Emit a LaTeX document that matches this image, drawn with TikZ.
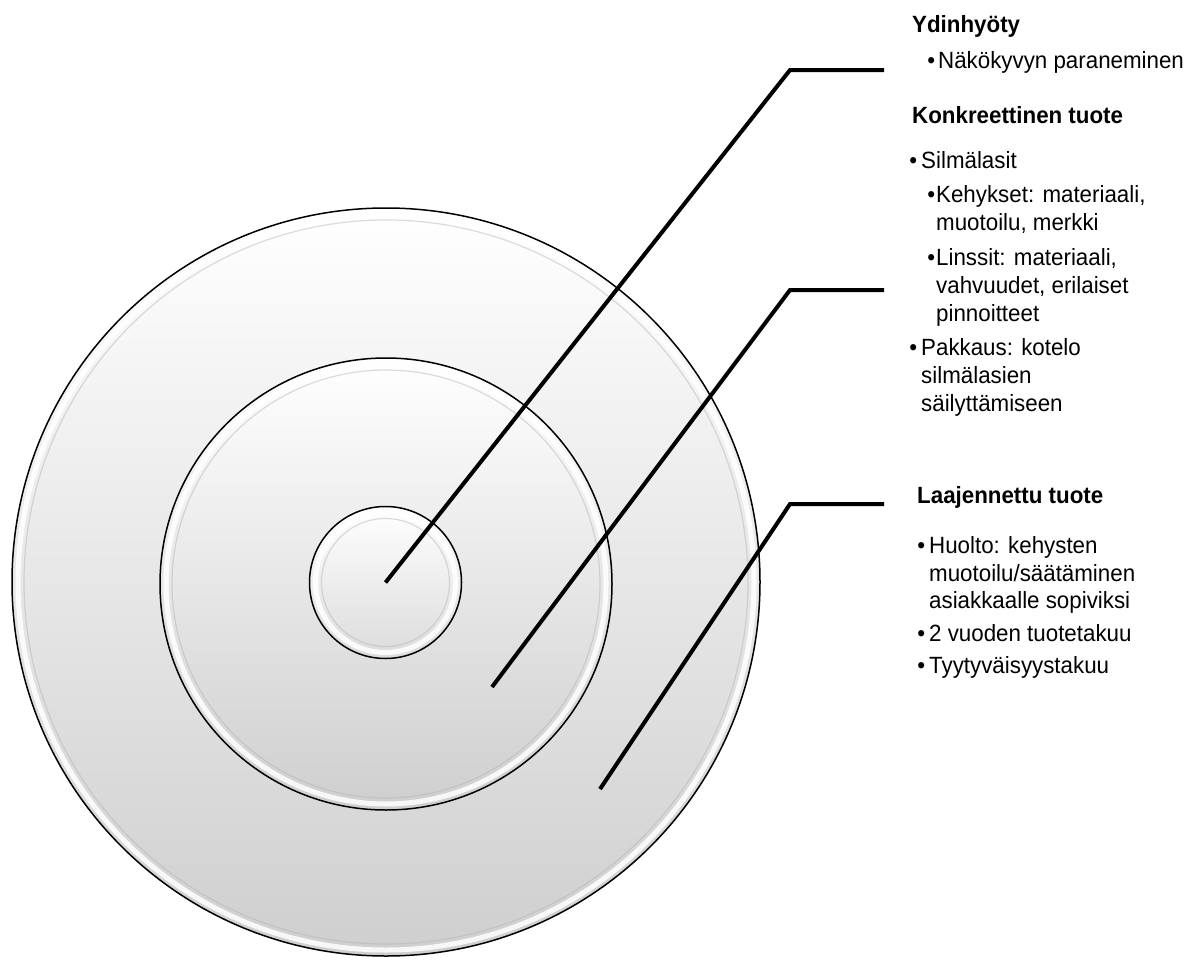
\documentclass[tikz,border=0pt]{standalone}
\usepackage{fontspec}
\setmainfont[FakeStretch=0.95]{Liberation Sans}
\newcommand\mybul[1]{\llap{•\hspace{#1}}}
\begin{document}
\begin{tikzpicture}[x=1pt,y=-1pt,
  disc/.style={circle, inner sep=0pt, draw=black, line width=1.5pt, top color=white, bottom color=gray!38},
  hl/.style={draw=white, line width=5pt, opacity=0.85},
  sh/.style={draw=gray!60, line width=1.2pt, opacity=0.45},
  conn/.style={line width=4pt, line join=miter},
  txt/.style={anchor=base west, inner sep=0pt, font=\fontsize{23.5}{28}\selectfont},
  head/.style={anchor=base west, inner sep=0pt, font=\fontsize{23.5}{28}\selectfont\bfseries}]
\useasboundingbox (0,0) rectangle (1188,961);
\fill[white] (0,0) rectangle (1188,961);

% discs
\node[disc, minimum size=748pt] (outer) at (386,582) {};
\draw[sh] (outer.center) circle[radius=362pt];
\draw[hl] (outer.center) circle[radius=368pt];
\node[disc, minimum size=452pt] (middle) at (386,584) {};
\draw[sh] (middle.center) circle[radius=214pt];
\draw[hl] (middle.center) circle[radius=220pt];
\node[disc, minimum size=152pt, bottom color=gray!28] (inner) at (385.5,582.5) {};
\draw[sh] (inner.center) circle[radius=64pt];
\draw[hl] (inner.center) circle[radius=70pt];

% connectors
\coordinate (c1) at (790,70);  \coordinate (e1) at (884,70);
\coordinate (s2) at (492,687); \coordinate (c2) at (790,290); \coordinate (e2) at (884,290);
\coordinate (s3) at (600,789); \coordinate (c3) at (790,504); \coordinate (e3) at (884,504);
\draw[conn] (inner.center) -- (c1) -- (e1);
\draw[conn] (s2) -- (c2) -- (e2);
\draw[conn] (s3) -- (c3) -- (e3);

% texts
\node[head] (t1) at (912,32) {Ydinhyöty};
\node[txt] (t2) at (938,68) {\mybul{3pt}Näkökyvyn paraneminen};
\node[head] (t3) at (912,123) {Konkreettinen tuote};
\node[txt] (t4) at (921,168) {\mybul{4pt}Silmälasit};
\node[txt] (t5) at (936,202) {\mybul{1pt}Kehykset: materiaali,};
\node[txt] (t6) at (936,230) {muotoilu, merkki};
\node[txt] (t7) at (936,265) {\mybul{1pt}Linssit: materiaali,};
\node[txt] (t8) at (936,293) {vahvuudet, erilaiset};
\node[txt] (t9) at (936,321) {pinnoitteet};
\node[txt] (t10) at (921,355) {\mybul{4pt}Pakkaus: kotelo};
\node[txt] (t11) at (921,383) {silmälasien};
\node[txt] (t12) at (921,411) {säilyttämiseen};
\node[head] (t13) at (917,503) {Laajennettu tuote};
\node[txt] (t14) at (929,553) {\mybul{4pt}Huolto: kehysten};
\node[txt] (t15) at (929,581) {muotoilu/säätäminen};
\node[txt] (t16) at (929,608) {asiakkaalle sopiviksi};
\node[txt] (t17) at (929,641) {\mybul{4pt}2 vuoden tuotetakuu};
\node[txt] (t18) at (929,673) {\mybul{4pt}Tyytyväisyystakuu};
\end{tikzpicture}
\end{document}
